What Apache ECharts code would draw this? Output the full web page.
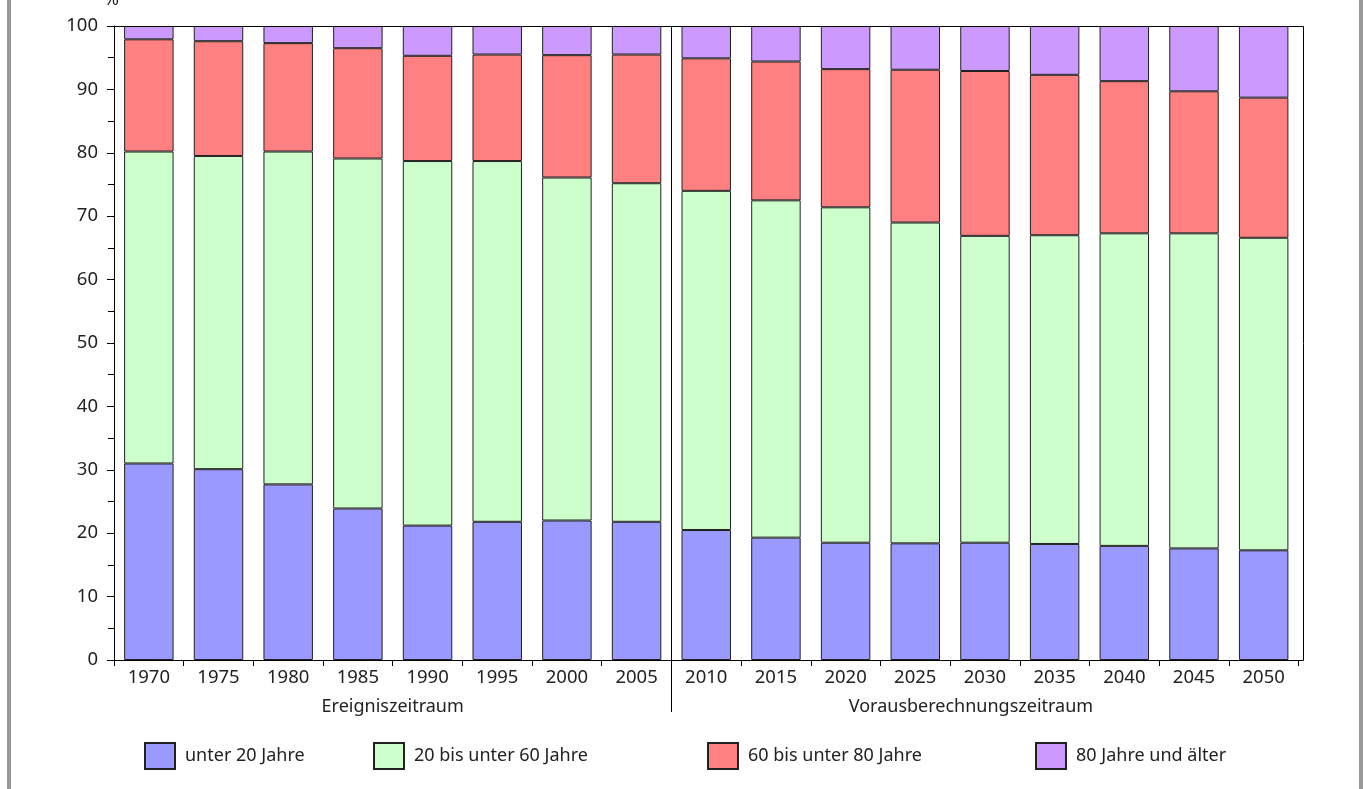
<!DOCTYPE html>
<html>
<head>
<meta charset="utf-8">
<script src="https://cdn.jsdelivr.net/npm/echarts@6/dist/echarts.min.js"></script>
<style>
  html, body { margin: 0; padding: 0; background: #fff; }
  #chart { width: 1363px; height: 789px; }
</style>
</head>
<body>
<div id="chart"></div>
<script>
/* ---------- data (Anteile in %) ---------- */
const years = ["1970", "1975", "1980", "1985", "1990", "1995", "2000", "2005",
  "2010", "2015", "2020", "2025", "2030", "2035", "2040", "2045", "2050"];
const under20 = [31.0, 30.1, 27.7, 23.9, 21.2, 21.8, 22.0, 21.8, 20.5, 19.3, 18.5, 18.4, 18.5, 18.3, 18.0, 17.6, 17.3];
const from20to60 = [49.2, 49.4, 52.5, 55.2, 57.5, 56.9, 54.1, 53.4, 53.5, 53.2, 52.9, 50.6, 48.4, 48.7, 49.3, 49.7, 49.3];
const from60to80 = [17.7, 18.1, 17.1, 17.4, 16.6, 16.8, 19.3, 20.3, 20.9, 21.9, 21.8, 24.1, 26.0, 25.3, 24.0, 22.4, 22.1];
const over80 = [2.1, 2.4, 2.7, 3.5, 4.7, 4.5, 4.6, 4.5, 5.1, 5.6, 6.8, 6.9, 7.1, 7.7, 8.7, 10.3, 11.3];
const yTicks = [0, 10, 20, 30, 40, 50, 60, 70, 80, 90, 100];
const periodNames = ["Ereigniszeitraum", "Vorausberechnungszeitraum"];

const FONT = '"Noto Sans", "Open Sans", sans-serif';
const TXT = "#222";

/* ---------- series ---------- */
const groups = [
  { name: "unter 20 Jahre", data: under20, color: "#9999FF", legendLeft: 144 },
  { name: "20 bis unter 60 Jahre", data: from20to60, color: "#CCFFCC", legendLeft: 373 },
  { name: "60 bis unter 80 Jahre", data: from60to80, color: "#FF8080", legendLeft: 707 },
  { name: "80 Jahre und älter", data: over80, color: "#CC99FF", legendLeft: 1035 },
];

const chart = echarts.init(document.getElementById("chart"));

chart.setOption({
  animation: false,
  backgroundColor: "#fff",
  textStyle: { fontFamily: FONT },
  grid: { left: 114, top: 26, right: 64.5, bottom: 129, outerBoundsMode: "none" },
  legend: groups.map((g) => ({
    data: [g.name],
    left: g.legendLeft,
    top: 742,
    padding: 0,
    icon: "rect",
    itemWidth: 30,
    itemHeight: 26,
    itemGap: 0,
    selectedMode: false,
    textStyle: { fontSize: 18, color: TXT, fontFamily: FONT, padding: [0, 0, 0, 5] },
  })),
  xAxis: {
    type: "category",
    data: years,
    axisLine: { lineStyle: { color: "#000", width: 1 } },
    axisTick: { show: true, length: 6, alignWithLabel: false, lineStyle: { color: "#000" } },
    axisLabel: { fontSize: 18.5, color: TXT, margin: 8, fontFamily: FONT },
  },
  yAxis: {
    type: "value",
    min: 0,
    max: 100,
    interval: 10,
    axisLine: { show: true, lineStyle: { color: "#000", width: 1 } },
    axisTick: { show: true, length: 7, lineStyle: { color: "#000" } },
    minorTick: { show: true, splitNumber: 2, length: 6, lineStyle: { color: "#000" } },
    splitLine: { show: false },
    axisLabel: {
      fontSize: 18.5, color: TXT, margin: 16, fontFamily: FONT,
      formatter: (v) => (yTicks.includes(v) ? String(v) : ""),
    },
  },
  series: groups.map((g) => ({
    name: g.name,
    type: "bar",
    stack: "total",
    barCategoryGap: "29%",
    data: g.data,
    itemStyle: { color: g.color, borderColor: "#222", borderWidth: 1 },
    emphasis: { disabled: true },
  })),
});

/* ---------- Rahmen, Trennlinie, Beschriftungen ---------- */
const xa = (i) => chart.convertToPixel({ xAxisIndex: 0 }, years[i]);
const divX = Math.round((xa(7) + xa(8)) / 2) + 0.5;
const midLeft = (xa(0) + xa(7)) / 2;
const midRight = (xa(8) + xa(16)) / 2;

chart.setOption({
  graphic: [
    { type: "rect", shape: { x: 7, y: 0, width: 4, height: 789 }, style: { fill: "#999" }, silent: true },
    { type: "rect", shape: { x: 1359, y: 0, width: 4, height: 789 }, style: { fill: "#999" }, silent: true },
    {
      type: "polyline", silent: true, z: 10,
      shape: { points: [[114.5, 660.5], [1303.5, 660.5], [1303.5, 26.5], [114.5, 26.5]] },
      style: { stroke: "#000", lineWidth: 1, fill: null },
    },
    {
      type: "line", silent: true, z: 10,
      shape: { x1: divX, y1: 26, x2: divX, y2: 712 },
      style: { stroke: "#000", lineWidth: 1 },
    },
    {
      type: "text", x: 104, y: 9, silent: true,
      style: { text: "%", fontSize: 18, fill: TXT, fontFamily: FONT, textVerticalAlign: "bottom" },
    },
    {
      type: "text", x: midLeft, y: 707, silent: true,
      style: { text: periodNames[0], fontSize: 18, fill: TXT, fontFamily: FONT, textAlign: "center", textVerticalAlign: "middle" },
    },
    {
      type: "text", x: midRight - 14, y: 707, silent: true,
      style: { text: periodNames[1], fontSize: 18, fill: TXT, fontFamily: FONT, textAlign: "center", textVerticalAlign: "middle" },
    },
  ],
});

window.addEventListener("resize", () => chart.resize());
</script>
</body>
</html>
